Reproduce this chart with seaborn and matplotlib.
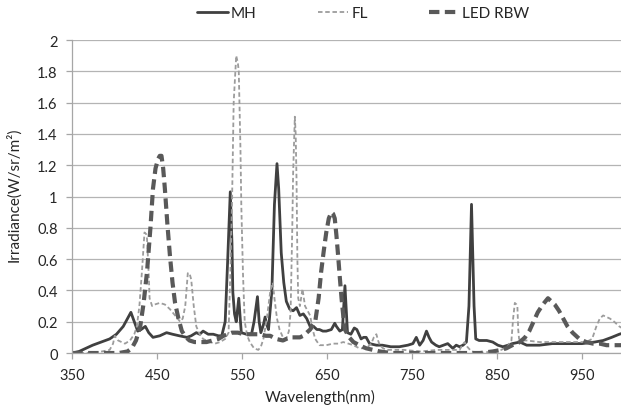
import matplotlib
matplotlib.use("Agg")
import matplotlib.pyplot as plt
import seaborn as sns
import pandas as pd

# ---- data (wavelength nm, irradiance W/sr/m2) ----
mh_nm = [350, 358, 366, 374, 384, 394, 402, 410, 416, 419, 423, 427, 431, 436, 440, 445, 453, 461, 468,
         476, 485, 490, 496, 500, 504, 510, 516, 522, 526, 530, 533, 536, 538, 539, 541, 543, 546, 548,
         549, 555, 561, 564, 568, 570, 572, 575, 577, 579, 581, 585, 588, 591, 593, 596, 599, 602, 606,
         610, 614, 618, 622, 626, 630, 634, 638, 641, 645, 649, 655, 659, 661, 665, 668, 671, 674, 678,
         682, 685, 690, 693, 696, 700, 708, 715, 725, 735, 745, 751, 755, 759, 763, 767, 770, 773, 778,
         782, 787, 792, 798, 802, 806, 810, 814, 817, 820, 823, 825, 829, 833, 838, 845, 851, 857, 863,
         868, 877, 885, 900, 915, 932, 950, 965, 975, 985, 994, 1000]
mh_val = [0.00, 0.01, 0.03, 0.05, 0.07, 0.09, 0.12, 0.17, 0.23, 0.26, 0.20, 0.14, 0.15, 0.17, 0.13, 0.10,
          0.11, 0.13, 0.12, 0.11, 0.10, 0.11, 0.13, 0.12, 0.14, 0.12, 0.12, 0.11, 0.11, 0.20, 0.60, 1.03,
          0.70, 0.39, 0.25, 0.20, 0.35, 0.20, 0.13, 0.12, 0.12, 0.20, 0.36, 0.20, 0.13, 0.18, 0.23, 0.18,
          0.15, 0.40, 0.95, 1.21, 1.05, 0.64, 0.45, 0.33, 0.28, 0.27, 0.29, 0.24, 0.25, 0.22, 0.17, 0.17,
          0.15, 0.15, 0.14, 0.14, 0.15, 0.19, 0.17, 0.14, 0.15, 0.43, 0.13, 0.12, 0.16, 0.15, 0.09, 0.10,
          0.10, 0.06, 0.05, 0.05, 0.04, 0.04, 0.05, 0.06, 0.10, 0.05, 0.08, 0.14, 0.10, 0.07, 0.05, 0.04,
          0.05, 0.06, 0.03, 0.05, 0.04, 0.05, 0.07, 0.30, 0.95, 0.30, 0.09, 0.08, 0.08, 0.08, 0.07, 0.05,
          0.04, 0.05, 0.06, 0.07, 0.05, 0.05, 0.06, 0.06, 0.06, 0.07, 0.08, 0.10, 0.12, 0.13]

fl_nm = [350, 370, 385, 394, 398, 400, 404, 408, 412, 418, 423, 426, 429, 432, 435, 437, 438, 440, 441,
         444, 447, 453, 459, 465, 471, 477, 480, 483, 486, 488, 490, 493, 496, 500, 504, 512, 518, 524,
         530, 534, 536, 538, 540, 543, 545, 546, 548, 549, 551, 553, 556, 559, 564, 569, 572, 575, 579,
         583, 586, 588, 591, 594, 598, 602, 605, 607, 609, 610, 612, 613, 614, 615, 616, 618, 621, 624,
         627, 630, 633, 636, 641, 649, 657, 663, 669, 675, 681, 688, 694, 698, 702, 705, 708, 710, 712,
         716, 720, 740, 760, 780, 800, 806, 809, 812, 815, 820, 830, 845, 855, 862, 867, 869, 871, 873,
         874, 875, 876, 880, 885, 900, 920, 940, 955, 962, 967, 971, 975, 979, 983, 988, 994, 1000]
fl_val = [0.00, 0.00, 0.01, 0.02, 0.06, 0.11, 0.08, 0.07, 0.06, 0.08, 0.12, 0.17, 0.30, 0.52, 0.77, 0.76,
          0.73, 0.50, 0.35, 0.30, 0.31, 0.32, 0.31, 0.28, 0.24, 0.20, 0.22, 0.30, 0.51, 0.51, 0.47, 0.30,
          0.17, 0.12, 0.09, 0.07, 0.06, 0.07, 0.09, 0.13, 0.50, 0.94, 1.60, 1.90, 1.85, 1.80, 1.30, 0.94,
          0.50, 0.20, 0.11, 0.07, 0.03, 0.02, 0.04, 0.09, 0.22, 0.39, 0.45, 0.35, 0.22, 0.15, 0.10, 0.09,
          0.14, 0.26, 0.80, 1.15, 1.51, 1.40, 1.11, 0.60, 0.35, 0.30, 0.41, 0.30, 0.27, 0.24, 0.15, 0.09,
          0.05, 0.05, 0.06, 0.06, 0.07, 0.06, 0.05, 0.03, 0.03, 0.04, 0.06, 0.10, 0.12, 0.08, 0.05, 0.03,
          0.02, 0.02, 0.01, 0.02, 0.02, 0.02, 0.05, 0.07, 0.04, 0.01, 0.00, 0.01, 0.02, 0.04, 0.08, 0.22,
          0.32, 0.31, 0.30, 0.15, 0.09, 0.08, 0.08, 0.07, 0.07, 0.07, 0.07, 0.09, 0.17, 0.22, 0.24, 0.23,
          0.22, 0.20, 0.17, 0.15]

led_nm = [350, 370, 390, 405, 415, 420, 425, 430, 434, 438, 442, 445, 448, 451, 453, 455, 457, 459, 462,
          465, 468, 471, 475, 479, 484, 488, 494, 500, 508, 515, 522, 528, 533, 538, 545, 552, 560, 571,
          578, 583, 590, 598, 602, 606, 612, 618, 622, 626, 630, 633, 636, 640, 643, 646, 649, 652, 655,
          657, 659, 661, 663, 665, 667, 669, 671, 676, 681, 688, 696, 704, 712, 725, 750, 780, 810, 830,
          845, 855, 861, 868, 877, 883, 888, 893, 898, 904, 910, 914, 918, 923, 928, 933, 939, 947, 955,
          963, 971, 979, 986, 992, 1000]
led_val = [0.00, 0.00, 0.00, 0.00, 0.01, 0.03, 0.08, 0.17, 0.32, 0.52, 0.80, 1.05, 1.18, 1.24, 1.26, 1.26,
           1.18, 1.05, 0.82, 0.62, 0.45, 0.32, 0.22, 0.14, 0.10, 0.08, 0.07, 0.07, 0.07, 0.08, 0.09, 0.11,
           0.12, 0.13, 0.13, 0.12, 0.12, 0.12, 0.11, 0.11, 0.09, 0.08, 0.09, 0.10, 0.10, 0.10, 0.11, 0.13,
           0.15, 0.18, 0.20, 0.35, 0.52, 0.65, 0.77, 0.86, 0.90, 0.89, 0.86, 0.75, 0.62, 0.48, 0.35, 0.24,
           0.15, 0.10, 0.07, 0.05, 0.03, 0.02, 0.01, 0.00, 0.00, 0.00, 0.00, 0.00, 0.01, 0.02, 0.03, 0.05,
           0.07, 0.10, 0.14, 0.20, 0.26, 0.31, 0.35, 0.33, 0.31, 0.27, 0.22, 0.17, 0.13, 0.09, 0.07, 0.06,
           0.06, 0.05, 0.05, 0.05, 0.05]

x_ticks = [350, 450, 550, 650, 750, 850, 950]
y_ticks = [0, 0.2, 0.4, 0.6, 0.8, 1, 1.2, 1.4, 1.6, 1.8, 2]
y_tick_labels = ['0', '0.2', '0.4', '0.6', '0.8', '1', '1.2', '1.4', '1.6', '1.8', '2']

sns.set_style("white")
plt.rcParams['font.family'] = ['Lato', 'DejaVu Sans']

fig = plt.figure(figsize=(6.21, 4.14), dpi=100)
ax = fig.add_axes([0.1164, 0.1449, 0.8836, 0.7560])

df_mh = pd.DataFrame({'nm': mh_nm, 'val': mh_val})
df_fl = pd.DataFrame({'nm': fl_nm, 'val': fl_val})
df_led = pd.DataFrame({'nm': led_nm, 'val': led_val})

sns.lineplot(data=df_mh, x='nm', y='val', ax=ax, color='#404040', linewidth=2.0, label='MH')
sns.lineplot(data=df_fl, x='nm', y='val', ax=ax, color='#9c9c9c', linewidth=1.3,
             label='FL').lines[-1].set_dashes([2.5, 1.5])
sns.lineplot(data=df_led, x='nm', y='val', ax=ax, color='#595959', linewidth=3.0,
             label='LED RBW').lines[-1].set_dashes([2.5, 1.3])

ax.set_xlim(350, 996)
ax.set_ylim(0, 2)
ax.set_xticks(x_ticks)
ax.set_xticklabels([str(t) for t in x_ticks])
ax.set_yticks(y_ticks)
ax.set_yticklabels(y_tick_labels)

ax.grid(axis='y', color='#b4b4b4', linewidth=0.9)
ax.set_axisbelow(True)
for s in ['top', 'right']:
    ax.spines[s].set_visible(False)
for s in ['left', 'bottom']:
    ax.spines[s].set_color('#a6a6a6')
    ax.spines[s].set_linewidth(0.9)

ax.tick_params(axis='both', which='major', direction='out', length=4.5, width=0.9,
               color='#a6a6a6', labelsize=10.5, labelcolor='#262626', pad=6)
ax.tick_params(axis='y', left=True)
ax.tick_params(axis='x', bottom=True)

ax.set_xlabel('Wavelength(nm)', fontsize=11, color='#262626')
ax.set_ylabel('Irradiance(W/sr/m²)', fontsize=11, color='#262626')
ax.xaxis.set_label_coords(0.451, -0.115)
ax.yaxis.set_label_coords(-0.092, 0.508)

handles, labels = ax.get_legend_handles_labels()
ax.get_legend().remove()
fig.legend(handles, labels, loc='center', bbox_to_anchor=(0.585, 0.966), ncol=3, frameon=False,
           fontsize=11, handlelength=2.0, handletextpad=0.2, columnspacing=4.0,
           labelcolor='#262626')

fig.savefig('out.png', dpi=100)
